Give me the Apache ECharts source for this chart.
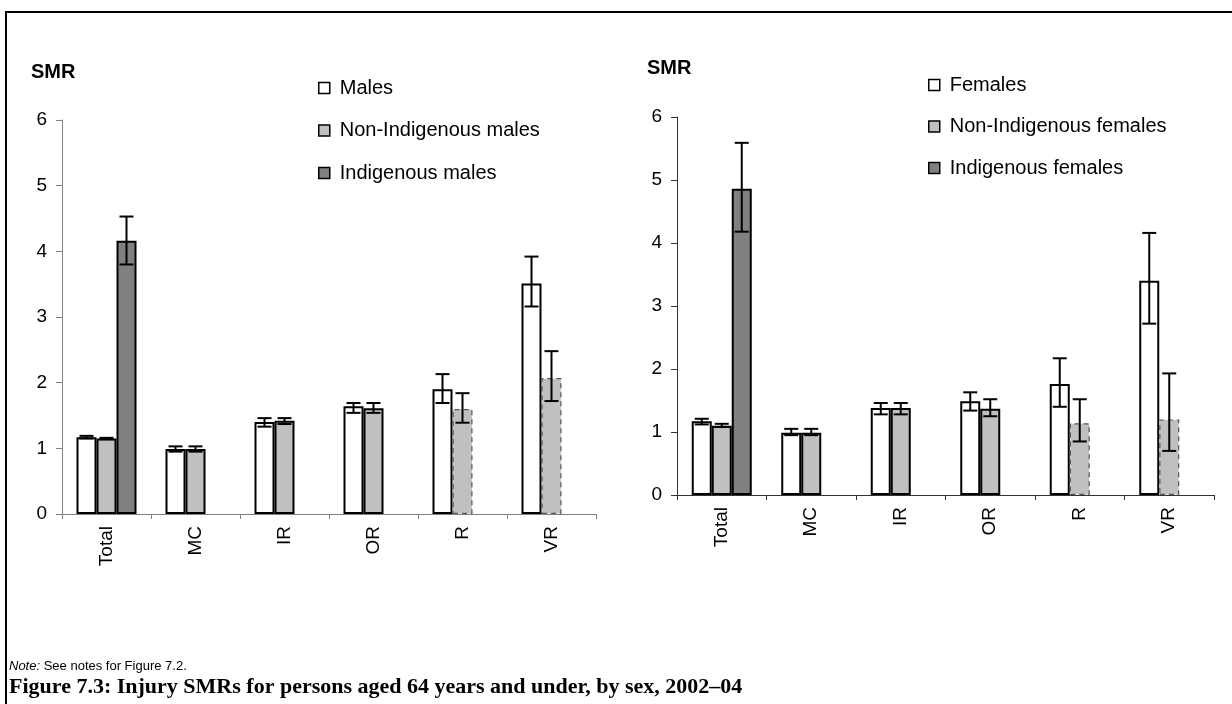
<!DOCTYPE html>
<html>
<head>
<meta charset="utf-8">
<script src="https://cdn.jsdelivr.net/npm/echarts@6/dist/echarts.min.js"></script>
<style>
html,body{margin:0;padding:0;background:#fff;}
#chart{width:1232px;height:704px;}
</style>
</head>
<body>
<div id="chart"></div>
<script>
// ---- Data ----
const categories = ['Total', 'MC', 'IR', 'OR', 'R', 'VR'];
const yTicks = [0, 1, 2, 3, 4, 5, 6];

const males         = [1.17, 0.99, 1.40, 1.64, 1.90, 3.51];
const malesLow      = [1.15, 0.95, 1.33, 1.54, 1.69, 3.16];
const malesHigh     = [1.19, 1.03, 1.46, 1.69, 2.13, 3.92];
const nonIndMales     = [1.15, 0.99, 1.42, 1.61, 1.60, 2.07];
const nonIndMalesLow  = [1.14, 0.95, 1.37, 1.54, 1.39, 1.72];
const nonIndMalesHigh = [1.16, 1.03, 1.46, 1.69, 1.84, 2.48];
const indMales     = [4.16, null, null, null, null, null];
const indMalesLow  = [3.80, null, null, null, null, null];
const indMalesHigh = [4.53, null, null, null, null, null];

const females         = [1.17, 0.99, 1.38, 1.49, 1.76, 3.40];
const femalesLow      = [1.12, 0.95, 1.28, 1.34, 1.40, 2.72];
const femalesHigh     = [1.21, 1.05, 1.46, 1.63, 2.17, 4.16];
const nonIndFemales     = [1.10, 0.99, 1.38, 1.37, 1.14, 1.20];
const nonIndFemalesLow  = [1.08, 0.95, 1.28, 1.25, 0.85, 0.70];
const nonIndFemalesHigh = [1.13, 1.05, 1.46, 1.52, 1.52, 1.93];
const indFemales     = [4.86, null, null, null, null, null];
const indFemalesLow  = [4.18, null, null, null, null, null];
const indFemalesHigh = [5.59, null, null, null, null, null];

// categories whose non-Indigenous bars are drawn with a dashed outline
const dashedCategories = ['R', 'VR'];

const maleNames = ['Males', 'Non-Indigenous males', 'Indigenous males'];
const femaleNames = ['Females', 'Non-Indigenous females', 'Indigenous females'];

// ---- Styles ----
const FILLS = ['#ffffff', '#c0c0c0', '#808080'];
const FONT = '"Liberation Sans", Arial, sans-serif';
const BAR_W = 20;
const OFFSETS = [-BAR_W, 0, BAR_W];

function barData(values, dashed) {
  return values.map((v, i) => {
    if (v === null) return null;
    if (dashed && dashedCategories.includes(categories[i])) {
      return { value: v, itemStyle: { borderType: [5, 4], borderColor: '#555', borderWidth: 1.2 } };
    }
    return v;
  });
}

function errData(low, high) {
  const out = [];
  low.forEach((l, i) => { if (l !== null) out.push([i, l, high[i]]); });
  return out;
}

function errRender(offset) {
  return function (params, api) {
    const i = api.value(0);
    const lo = api.coord([i, api.value(1)]);
    const hi = api.coord([i, api.value(2)]);
    const x = lo[0] + offset;
    const cap = 7;
    const st = { stroke: '#000', lineWidth: 2 };
    return {
      type: 'group',
      children: [
        { type: 'line', shape: { x1: x, y1: hi[1], x2: x, y2: lo[1] }, style: st },
        { type: 'line', shape: { x1: x - cap, y1: hi[1], x2: x + cap, y2: hi[1] }, style: st },
        { type: 'line', shape: { x1: x - cap, y1: lo[1], x2: x + cap, y2: lo[1] }, style: st }
      ]
    };
  };
}

function makeAxes(idx, axisColor) {
  return {
    x: {
      type: 'category', gridIndex: idx, data: categories,
      axisLine: { lineStyle: { color: axisColor, width: 1 } },
      axisTick: { show: true, alignWithLabel: false, length: 5, lineStyle: { color: axisColor } },
      axisLabel: { rotate: 90, fontSize: 19, color: '#000', fontFamily: FONT, margin: 12, interval: 0 }
    },
    y: {
      type: 'value', gridIndex: idx, min: yTicks[0], max: yTicks[yTicks.length - 1], interval: 1,
      splitLine: { show: false },
      axisLine: { show: true, lineStyle: { color: axisColor, width: 1 } },
      axisTick: { show: true, length: 6, lineStyle: { color: axisColor } },
      axisLabel: { fontSize: 19, color: '#000', fontFamily: FONT, margin: 15 }
    }
  };
}

function chartSeries(idx, names, vals, lows, highs) {
  const s = [];
  names.forEach((n, k) => {
    s.push({
      name: n, type: 'bar', xAxisIndex: idx, yAxisIndex: idx,
      data: barData(vals[k], k === 1),
      barWidth: BAR_W, barGap: '0%',
      itemStyle: { color: FILLS[k], borderColor: '#000', borderWidth: 2 },
      emphasis: { disabled: true },
      z: 2
    });
  });
  names.forEach((n, k) => {
    s.push({
      type: 'custom', xAxisIndex: idx, yAxisIndex: idx,
      renderItem: errRender(OFFSETS[k]),
      data: errData(lows[k], highs[k]),
      z: 5, silent: true
    });
  });
  return s;
}

const a0 = makeAxes(0, '#808080');
const a1 = makeAxes(1, '#333');

function legendData(names) {
  return names.map((n, k) => ({ name: n, itemStyle: { color: FILLS[k], borderColor: '#000', borderWidth: 1.5 } }));
}

function legendOpt(names, left, top, gap) {
  return {
    orient: 'vertical', left: left, top: top, icon: 'rect', itemWidth: 11, itemHeight: 11, itemGap: gap,
    data: legendData(names), selectedMode: false,
    textStyle: { fontSize: 20, lineHeight: 20, color: '#000', fontFamily: FONT, padding: [0, 0, 0, 5] }
  };
}

const option = {
  animation: false,
  backgroundColor: '#fff',
  grid: [
    { left: 62, right: 636, top: 120, bottom: 190 },
    { left: 677, right: 18, top: 117, bottom: 209 }
  ],
  xAxis: [a0.x, a1.x],
  yAxis: [a0.y, a1.y],
  legend: [
    legendOpt(maleNames, 313, 73, 22.5),
    legendOpt(femaleNames, 923, 70, 21.5)
  ],
  series: [].concat(
    chartSeries(0, maleNames, [males, nonIndMales, indMales], [malesLow, nonIndMalesLow, indMalesLow], [malesHigh, nonIndMalesHigh, indMalesHigh]),
    chartSeries(1, femaleNames, [females, nonIndFemales, indFemales], [femalesLow, nonIndFemalesLow, indFemalesLow], [femalesHigh, nonIndFemalesHigh, indFemalesHigh])
  ),
  graphic: [
    { type: 'line', shape: { x1: 5, y1: 12, x2: 1232, y2: 12 }, style: { stroke: '#000', lineWidth: 2 } },
    { type: 'line', shape: { x1: 6, y1: 12, x2: 6, y2: 704 }, style: { stroke: '#000', lineWidth: 2 } },
    { type: 'text', x: 31, y: 72, style: { text: 'SMR', font: 'bold 20px "Liberation Sans", Arial, sans-serif', fill: '#000', textVerticalAlign: 'middle', verticalAlign: 'middle' } },
    { type: 'text', x: 647, y: 68, style: { text: 'SMR', font: 'bold 20px "Liberation Sans", Arial, sans-serif', fill: '#000', textVerticalAlign: 'middle', verticalAlign: 'middle' } },
    { type: 'text', left: 9, top: 660, style: {
        text: '{i|Note:} See notes for Figure 7.2.',
        rich: { i: { fontStyle: 'italic', fontSize: 13, fontFamily: FONT, fill: '#000' } },
        fontSize: 13, fontFamily: FONT, fill: '#000' } },
    { type: 'text', left: 9, top: 676, style: {
        text: 'Figure 7.3: Injury SMRs for persons aged 64 years and under, by sex, 2002–04',
        fontSize: 22, fontWeight: 'bold', fontFamily: '"Liberation Serif", "Times New Roman", serif', fill: '#000' } }
  ]
};

const chart = echarts.init(document.getElementById('chart'), null, { renderer: 'canvas' });
chart.setOption(option);
</script>
</body>
</html>
